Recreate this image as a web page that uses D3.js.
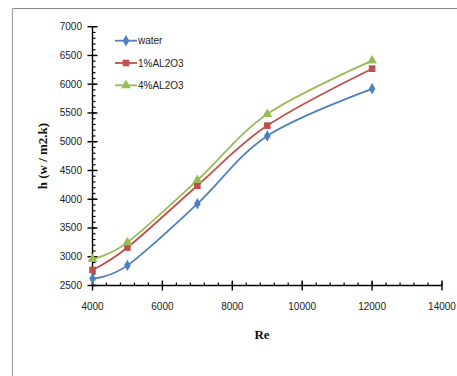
<!DOCTYPE html>
<html>
<head>
<meta charset="utf-8">
<script src="https://cdn.jsdelivr.net/npm/d3@7/dist/d3.min.js"></script>
<style>
  html, body { margin: 0; padding: 0; background: #fff; }
  svg { display: block; }
</style>
</head>
<body>
<svg id="chart" width="457" height="376"></svg>
<script>
// Heat transfer coefficient vs Reynolds number
const reynolds = [4000, 5000, 7000, 9000, 12000];
const water = [2620, 2850, 3920, 5100, 5920];
const al2o3_1 = [2770, 3160, 4235, 5280, 6270];
const al2o3_4 = [2960, 3250, 4330, 5480, 6410];
const seriesNames = ["water", "1%AL2O3", "4%AL2O3"];
const xTicks = [4000, 6000, 8000, 10000, 12000, 14000];
const yTicks = [2500, 3000, 3500, 4000, 4500, 5000, 5500, 6000, 6500, 7000];

const svg = d3.select("#chart");

// outer chart frame (top and left edges visible)
svg.append("line").attr("x1", 12.5).attr("x2", 457).attr("y1", 8.5).attr("y2", 8.5)
  .attr("stroke", "#8a8a8a").attr("stroke-width", 1.2);
svg.append("line").attr("x1", 12.5).attr("x2", 12.5).attr("y1", 8.5).attr("y2", 376)
  .attr("stroke", "#a0a0a0").attr("stroke-width", 1.2);

const x = d3.scaleLinear().domain([4000, 14000]).range([92.5, 442]);
const y = d3.scaleLinear().domain([2500, 7000]).range([285.5, 26.7]);

const font = "'Liberation Sans', Arial, sans-serif";

// axes with minor ticks (minor = major / 5)
const xMinor = d3.range(4000, 14001, 400);
const yMinor = d3.range(2500, 7001, 100);

const gx = svg.append("g");
gx.append("line").attr("x1", x(4000)).attr("x2", x(14000)).attr("y1", y(2500)).attr("y2", y(2500))
  .attr("stroke", "#000").attr("stroke-width", 1.4);
gx.selectAll(".mx").data(xMinor).join("line")
  .attr("x1", d => x(d)).attr("x2", d => x(d))
  .attr("y1", y(2500) - 3).attr("y2", y(2500))
  .attr("stroke", "#000").attr("stroke-width", 1.2);
gx.selectAll(".Mx").data(xTicks).join("line")
  .attr("x1", d => x(d)).attr("x2", d => x(d))
  .attr("y1", y(2500) - 5).attr("y2", y(2500) + 5)
  .attr("stroke", "#000").attr("stroke-width", 1.4);
gx.selectAll("text").data(xTicks).join("text")
  .attr("x", d => x(d)).attr("y", 310)
  .attr("text-anchor", "middle")
  .attr("font-family", font).attr("font-size", 10).attr("fill", "#222")
  .text(d => d);

const gy = svg.append("g");
gy.append("line").attr("x1", x(4000)).attr("x2", x(4000)).attr("y1", y(2500)).attr("y2", y(7000))
  .attr("stroke", "#000").attr("stroke-width", 1.4);
gy.selectAll(".my").data(yMinor).join("line")
  .attr("x1", x(4000)).attr("x2", x(4000) + 3)
  .attr("y1", d => y(d)).attr("y2", d => y(d))
  .attr("stroke", "#000").attr("stroke-width", 1.2);
gy.selectAll(".My").data(yTicks).join("line")
  .attr("x1", x(4000) - 5).attr("x2", x(4000) + 5)
  .attr("y1", d => y(d)).attr("y2", d => y(d))
  .attr("stroke", "#000").attr("stroke-width", 1.4);
gy.selectAll("text").data(yTicks).join("text")
  .attr("x", 82).attr("y", d => y(d) + 3.5)
  .attr("text-anchor", "end")
  .attr("font-family", font).attr("font-size", 10).attr("fill", "#222")
  .text(d => d);

// axis titles
svg.append("text")
  .attr("transform", "translate(47," + ((y(2500) + y(7000)) / 2) + ") rotate(-90)")
  .attr("text-anchor", "middle")
  .attr("font-family", "'Liberation Serif', 'Times New Roman', serif")
  .attr("font-weight", "bold").attr("font-size", 13).attr("fill", "#111")
  .text("h (w / m2.k)");
svg.append("text")
  .attr("x", 262).attr("y", 339)
  .attr("text-anchor", "middle")
  .attr("font-family", "'Liberation Serif', 'Times New Roman', serif")
  .attr("font-weight", "bold").attr("font-size", 13).attr("fill", "#111")
  .text("Re");

// series
const colors = ["#4F81BD", "#C0504D", "#9BBB59"];
const shapes = [d3.symbolDiamond, d3.symbolSquare, d3.symbolTriangle];
const sizes = [38, 44, 42];
const data = [water, al2o3_1, al2o3_4];

const line = d3.line()
  .x((d, i) => x(reynolds[i]))
  .y(d => y(d))
  .curve(d3.curveCardinal.tension(0));

const plot = svg.append("g");
data.forEach((vals, k) => {
  plot.append("path").datum(vals)
    .attr("d", line)
    .attr("fill", "none").attr("stroke", colors[k]).attr("stroke-width", 1.8);
});
data.forEach((vals, k) => {
  plot.selectAll(".m" + k).data(vals).join("path")
    .attr("transform", (d, i) => "translate(" + x(reynolds[i]) + "," + y(d) + ")")
    .attr("d", d3.symbol().type(shapes[k]).size(sizes[k]))
    .attr("fill", colors[k]);
});

// legend
const legendY = [40.7, 63, 85.3];
const lg = svg.append("g");
seriesNames.forEach((name, k) => {
  lg.append("line").attr("x1", 115).attr("x2", 137)
    .attr("y1", legendY[k]).attr("y2", legendY[k])
    .attr("stroke", colors[k]).attr("stroke-width", 1.8);
  lg.append("path")
    .attr("transform", "translate(126," + legendY[k] + ")")
    .attr("d", d3.symbol().type(shapes[k]).size(sizes[k]))
    .attr("fill", colors[k]);
  lg.append("text").attr("x", 138).attr("y", legendY[k] + 3.5)
    .attr("font-family", font).attr("font-size", 10).attr("fill", "#222")
    .text(name);
});
</script>
</body>
</html>
